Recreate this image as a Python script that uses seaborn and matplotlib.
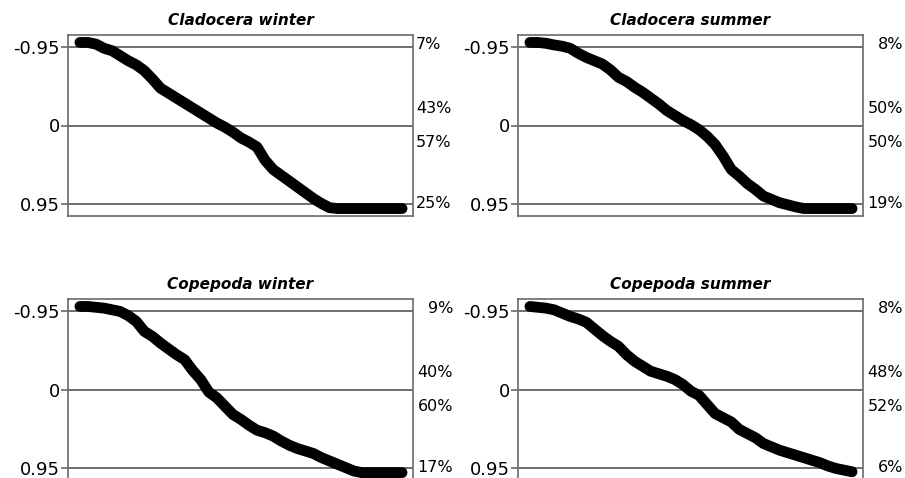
import matplotlib
matplotlib.use("Agg")
import matplotlib.pyplot as plt
import matplotlib.transforms as mtransforms
import seaborn as sns
import numpy as np
import pandas as pd

sns.set_style("white")
plt.rcParams['font.family'] = ['DejaVu Sans']
plt.rcParams['text.color'] = 'black'
plt.rcParams['ytick.labelcolor'] = 'black'
plt.rcParams['axes.titlecolor'] = 'black'

# rank fraction of each read-off point (0 = first, 1 = last)
rank = [i / 40 for i in range(41)]

cladocera_winter = [-1.0, -1.0, -0.98, -0.93, -0.90, -0.84, -0.78, -0.73, -0.66, -0.56,
                    -0.45, -0.39, -0.33, -0.27, -0.21, -0.15, -0.09, -0.03, 0.02, 0.08,
                    0.15, 0.20, 0.26, 0.42, 0.53, 0.60, 0.67, 0.74, 0.81, 0.88,
                    0.94, 0.99, 1.0, 1.0, 1.0, 1.0, 1.0, 1.0, 1.0, 1.0, 1.0]
cladocera_summer = [-1.0, -1.0, -0.99, -0.97, -0.955, -0.93, -0.87, -0.82, -0.78, -0.74,
                    -0.67, -0.58, -0.53, -0.46, -0.40, -0.33, -0.26, -0.18, -0.12, -0.06,
                    -0.01, 0.05, 0.13, 0.23, 0.37, 0.53, 0.61, 0.70, 0.77, 0.85,
                    0.89, 0.93, 0.955, 0.98, 1.0, 1.0, 1.0, 1.0, 1.0, 1.0, 1.0]
copepoda_winter = [-1.0, -1.0, -0.99, -0.98, -0.96, -0.94, -0.89, -0.82, -0.70, -0.64,
                   -0.56, -0.49, -0.42, -0.36, -0.23, -0.12, 0.03, 0.10, 0.20, 0.30,
                   0.36, 0.43, 0.49, 0.52, 0.56, 0.62, 0.67, 0.71, 0.74, 0.77,
                   0.82, 0.86, 0.90, 0.94, 0.98, 1.0, 1.0, 1.0, 1.0, 1.0, 1.0]
copepoda_summer = [-1.0, -0.99, -0.98, -0.96, -0.92, -0.88, -0.85, -0.81, -0.73, -0.65,
                   -0.58, -0.52, -0.42, -0.34, -0.28, -0.22, -0.19, -0.16, -0.12, -0.06,
                   0.02, 0.07, 0.18, 0.29, 0.34, 0.39, 0.48, 0.53, 0.58, 0.65,
                   0.69, 0.73, 0.76, 0.79, 0.82, 0.85, 0.88, 0.92, 0.95, 0.97, 0.99]

titles = ["Cladocera winter", "Cladocera summer", "Copepoda winter", "Copepoda summer"]
series = [cladocera_winter, cladocera_summer, copepoda_winter, copepoda_summer]
percent_labels = [["7%", "43%", "57%", "25%"],
                  ["8%", "50%", "50%", "19%"],
                  ["9%", "40%", "60%", "17%"],
                  ["8%", "48%", "52%", "6%"]]
y_ticks = [-0.95, 0, 0.95]
y_tick_labels = ["-0.95", "0", "0.95"]

W, H = 905, 478
fig = plt.figure(figsize=(W / 100, H / 100), dpi=100)

# axes boxes in pixels: left, top, width, height
boxes = [(68, 35, 345, 181), (518, 35, 345, 181),
         (68, 299, 345, 183), (518, 299, 345, 183)]
label_y = [-0.97, -0.2, 0.21, 0.94]
label_x = [(1.008, "left"), (1.116, "right"), (1.116, "right"), (1.116, "right")]

gray = "#6a6a6a"
for i, (l, t, w, h) in enumerate(boxes):
    ax = fig.add_axes([l / W, (H - t - h) / H, w / W, h / H])
    df = pd.DataFrame({"rank": rank, "r": series[i]})
    sns.lineplot(data=df, x="rank", y="r", ax=ax, color="black", linewidth=7.8,
                 solid_capstyle="round", solid_joinstyle="round")
    ax.set_xlim(-0.037, 1.034)
    if h == 181:
        ax.set_ylim(1.09, -1.09)
    else:
        ax.set_ylim(1.113, -1.09)
    for yv in y_ticks:
        ax.axhline(yv, color="#555555", lw=1.2, zorder=0)
    ax.set_xticks([])
    ax.set_yticks(y_ticks)
    ax.set_yticklabels(y_tick_labels)
    ax.tick_params(axis="y", direction="out", length=5, width=1.2, color=gray,
                   labelsize=13, labelcolor="black", pad=1, left=True)
    ax.set_xlabel("")
    ax.set_ylabel("")
    for s in ax.spines.values():
        s.set_color(gray)
        s.set_linewidth(1.2)
    ax.set_title(titles[i], fontsize=11, fontweight="bold", fontstyle="italic",
                 pad=7, color="black")
    trans = mtransforms.blended_transform_factory(ax.transAxes, ax.transData)
    xp, ha = label_x[i]
    for lab, yv in zip(percent_labels[i], label_y):
        ax.text(xp, yv, lab, transform=trans, ha=ha, va="center", fontsize=11.5,
                color="black", clip_on=False)

fig.savefig("out.png", dpi=100)
